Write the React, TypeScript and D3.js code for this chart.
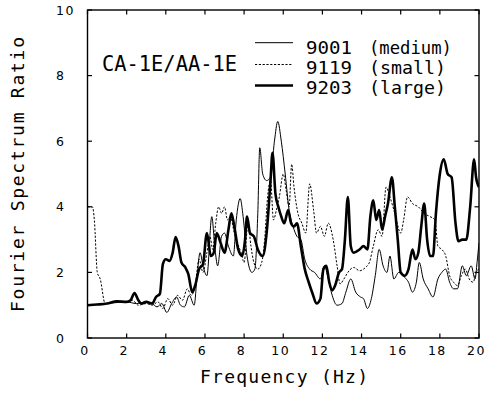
import React from "react";
import * as d3 from "d3";

// ---- data (frequency Hz, spectrum ratio) ----
const series9001: [number, number][] = [
  [0, 1.0], [1, 1.05], [2, 1.1], [2.5, 1.05], [3, 1.1], [3.3, 1.05], [3.55, 0.95], [3.8, 1.05],
  [4.05, 0.78], [4.3, 1.05], [4.55, 1.25], [4.75, 1.0], [4.95, 0.95], [5.2, 1.3], [5.45, 1.0],
  [5.6, 1.9], [5.75, 2.6], [5.9, 2.2], [6.1, 1.9], [6.35, 3.7], [6.5, 2.8], [6.65, 2.2],
  [6.85, 3.1], [7.0, 3.2], [7.2, 2.8], [7.45, 2.5], [7.6, 3.6], [7.8, 4.25], [7.95, 3.7],
  [8.15, 2.5], [8.4, 2.0], [8.55, 2.1], [8.7, 3.8], [8.8, 5.8], [8.95, 5.0], [9.15, 4.8],
  [9.35, 4.9], [9.55, 6.0], [9.72, 6.6], [9.9, 6.0], [10.1, 5.0], [10.3, 3.9], [10.5, 3.4],
  [10.7, 3.1], [10.9, 3.0], [11.1, 2.4], [11.35, 2.1], [11.6, 2.0], [11.9, 1.8], [12.1, 2.2],
  [12.3, 1.8], [12.5, 1.3], [12.75, 1.0], [13.0, 1.05], [13.2, 1.4], [13.45, 1.8], [13.7, 1.4],
  [13.95, 1.25], [14.1, 1.2], [14.3, 0.9], [14.5, 1.2], [14.7, 1.9], [14.9, 2.7], [15.1, 2.2],
  [15.3, 2.0], [15.45, 2.5], [15.65, 1.8], [15.9, 2.0], [16.2, 1.85], [16.4, 1.7], [16.6, 1.4],
  [16.8, 1.7], [16.95, 2.3], [17.15, 1.8], [17.4, 1.5], [17.65, 1.25], [17.9, 1.8], [18.1, 2.0],
  [18.3, 2.1], [18.5, 1.7], [18.7, 1.5], [18.9, 1.5], [19.15, 2.2], [19.35, 1.9], [19.6, 2.2],
  [19.8, 1.8], [19.9, 2.3], [20, 2.9],
];

const series9119: [number, number][] = [
  [0, 4.0], [0.25, 4.0], [0.35, 3.6], [0.5, 2.0], [0.65, 1.8], [0.9, 1.05], [1.5, 1.1], [2.0, 1.1],
  [2.3, 1.15], [2.6, 1.0], [3.0, 1.05], [3.3, 1.0], [3.6, 1.1], [3.85, 0.9], [4.1, 1.2],
  [4.35, 1.0], [4.6, 1.3], [4.85, 1.15], [5.1, 1.5], [5.3, 1.3], [5.5, 1.6], [5.7, 2.4],
  [5.9, 2.0], [6.1, 2.6], [6.25, 3.1], [6.4, 2.7], [6.55, 3.5], [6.7, 4.0], [6.85, 3.8],
  [7.0, 4.0], [7.15, 3.6], [7.3, 3.7], [7.5, 3.2], [7.65, 2.9], [7.85, 2.6], [8.0, 2.3],
  [8.2, 3.5], [8.35, 2.8], [8.5, 2.3], [8.7, 2.1], [8.9, 2.3], [9.05, 3.0], [9.2, 4.3],
  [9.35, 4.8], [9.5, 3.6], [9.65, 3.9], [9.8, 4.3], [10.0, 5.0], [10.15, 4.5], [10.3, 4.0],
  [10.43, 5.3], [10.55, 4.6], [10.75, 3.8], [10.95, 3.5], [11.15, 3.2], [11.35, 4.7],
  [11.55, 3.9], [11.7, 3.2], [11.9, 3.4], [12.1, 3.1], [12.3, 3.5], [12.55, 3.0], [12.75, 2.2],
  [12.9, 1.65], [13.1, 1.8], [13.3, 2.0], [13.6, 2.15], [13.9, 2.05], [14.2, 2.15], [14.4, 2.3],
  [14.6, 2.8], [14.85, 3.3], [15.05, 3.1], [15.25, 4.6], [15.45, 4.3], [15.7, 3.8], [16.0, 3.2],
  [16.15, 3.6], [16.35, 4.3], [16.6, 4.1], [16.9, 4.0], [17.2, 3.8], [17.5, 3.7], [17.75, 3.6],
  [17.9, 2.8], [18.1, 2.7], [18.3, 2.5], [18.5, 1.9], [18.7, 1.7], [18.9, 1.6], [19.1, 1.9],
  [19.3, 2.1], [19.5, 1.8], [19.7, 1.7], [19.85, 2.0], [20, 2.1],
];

const series9203: [number, number][] = [
  [0, 1.0], [0.5, 1.02], [1, 1.05], [1.5, 1.12], [2, 1.1], [2.2, 1.15], [2.4, 1.37], [2.6, 1.15],
  [2.75, 1.05], [3.0, 1.1], [3.3, 1.05], [3.5, 1.25], [3.7, 1.35], [3.85, 2.25], [4.0, 2.4],
  [4.2, 2.35], [4.35, 2.6], [4.5, 3.08], [4.65, 2.8], [4.8, 2.3], [5.0, 2.15], [5.15, 1.95],
  [5.35, 1.4], [5.5, 1.6], [5.7, 2.1], [5.9, 2.25], [6.1, 3.2], [6.3, 2.5], [6.45, 2.6],
  [6.6, 3.2], [6.8, 2.9], [7.0, 2.6], [7.2, 3.3], [7.35, 3.8], [7.5, 3.4], [7.7, 2.7],
  [7.9, 2.5], [8.05, 3.0], [8.15, 3.7], [8.3, 3.2], [8.5, 3.1], [8.7, 2.7], [8.95, 2.5],
  [9.15, 3.2], [9.35, 4.8], [9.45, 5.65], [9.6, 4.4], [9.75, 4.0], [9.9, 3.7], [10.05, 3.5],
  [10.25, 3.9], [10.4, 3.5], [10.55, 3.4], [10.7, 3.5], [10.9, 2.8], [11.1, 2.1], [11.3, 1.7],
  [11.5, 1.35], [11.7, 1.05], [11.9, 1.2], [12.05, 2.1], [12.2, 2.2], [12.35, 1.7], [12.5, 1.45],
  [12.65, 1.6], [12.85, 2.0], [13.0, 2.1], [13.15, 3.0], [13.3, 4.3], [13.45, 2.8], [13.6, 2.6],
  [13.9, 2.7], [14.1, 2.8], [14.3, 2.7], [14.45, 3.7], [14.6, 4.2], [14.75, 3.6], [14.9, 3.9],
  [15.05, 3.3], [15.2, 3.7], [15.35, 4.1], [15.55, 4.9], [15.7, 4.0], [15.85, 3.0], [16.0, 2.0],
  [16.2, 1.9], [16.4, 2.1], [16.6, 2.7], [16.75, 2.4], [16.9, 2.6], [17.05, 3.4], [17.2, 4.1],
  [17.35, 3.0], [17.5, 2.5], [17.65, 2.5], [17.8, 3.8], [18.0, 5.0], [18.2, 5.45], [18.4, 5.0],
  [18.6, 4.9], [18.8, 3.5], [18.95, 2.95], [19.15, 3.0], [19.35, 3.0], [19.55, 4.0],
  [19.75, 5.45], [19.85, 4.9], [20, 4.6],
];

const xTicks = [0, 2, 4, 6, 8, 10, 12, 14, 16, 18, 20];
const yTicks = [0, 2, 4, 6, 8, 10];
const legendIds = ["9001", "9119", "9203"];
const legendNames = ["(medium)", "(small)", "(large)"];
const stationLabel = "CA-1E/AA-1E";
const xTitle = "Frequency (Hz)";
const yTitle = "Fourier Spectrum Ratio";

const W = 490;
const H = 395;
const L = 87.5, R = 479, T = 10, B = 338;
const MONO = "'DejaVu Sans Mono', monospace";

export default function App() {
  const x = d3.scaleLinear().domain([0, 20]).range([L, R]);
  const y = d3.scaleLinear().domain([0, 10]).range([B, T]);
  const line = d3
    .line<[number, number]>()
    .x((d) => x(d[0]))
    .y((d) => y(d[1]))
    .curve(d3.curveMonotoneX);

  const styles = [
    { data: series9001, width: 1.0, dash: undefined as string | undefined },
    { data: series9119, width: 1.0, dash: "2.2 1.6" },
    { data: series9203, width: 2.6, dash: undefined as string | undefined },
  ];
  const legendY = [42.7, 64.5, 85.5];
  const textBase = [54, 74, 94];
  const nameLen = [83, 77, 77];

  return (
    <svg width={W} height={H} style={{ position: "absolute", left: 0, top: 0, background: "#fff" }}>
      <rect x={0} y={0} width={W} height={H} fill="#fff" />
      <defs>
        <clipPath id="plotClip">
          <rect x={L} y={T} width={R - L} height={B - T} />
        </clipPath>
      </defs>
      <g clipPath="url(#plotClip)">
        {styles.map((s, i) => (
          <path
            key={i}
            d={line(s.data) || ""}
            fill="none"
            stroke="#000"
            strokeWidth={s.width}
            strokeDasharray={s.dash}
            strokeLinejoin="round"
          />
        ))}
      </g>
      {/* frame */}
      <rect x={L} y={T} width={R - L} height={B - T} fill="none" stroke="#000" strokeWidth={1.4} />
      {xTicks.map((t) => (
        <g key={"xt" + t}>
          <line x1={x(t)} x2={x(t)} y1={B} y2={B - 4.5} stroke="#000" strokeWidth={1.2} />
          <line x1={x(t)} x2={x(t)} y1={T} y2={T + 4.5} stroke="#000" strokeWidth={1.2} />
          <text
            x={x(t) - 2.5}
            y={355}
            textAnchor="middle"
            fontFamily="'DejaVu Sans', sans-serif"
            fontSize={12.5}
            letterSpacing={1.5}
            fill="#000"
          >
            {t}
          </text>
        </g>
      ))}
      {yTicks.map((t) => (
        <g key={"yt" + t}>
          <line x1={L} x2={L + 4.5} y1={y(t)} y2={y(t)} stroke="#000" strokeWidth={1.2} />
          <line x1={R} x2={R - 4.5} y1={y(t)} y2={y(t)} stroke="#000" strokeWidth={1.2} />
          <text
            x={56}
            y={y(t)}
            dy="0.36em"
            textAnchor="start"
            fontFamily="'DejaVu Sans', sans-serif"
            fontSize={12.5}
            letterSpacing={1.5}
            fill="#000"
          >
            {t}
          </text>
        </g>
      ))}
      {/* axis titles */}
      <text
        x={284}
        y={383}
        textAnchor="middle"
        fontFamily={MONO}
        fontSize={18}
        textLength={168}
        lengthAdjust="spacing"
        fill="#000"
      >
        {xTitle}
      </text>
      <text
        transform="translate(23.5,174.5) rotate(-90)"
        textAnchor="middle"
        fontFamily={MONO}
        fontSize={18}
        textLength={275}
        lengthAdjust="spacing"
        fill="#000"
      >
        {yTitle}
      </text>
      {/* station label */}
      <text
        x={102}
        y={71}
        fontFamily={MONO}
        fontSize={21}
        textLength={135}
        lengthAdjust="spacingAndGlyphs"
        fill="#000"
      >
        {stationLabel}
      </text>
      {/* legend */}
      {legendIds.map((id, i) => (
        <g key={id}>
          <line
            x1={255}
            x2={293}
            y1={legendY[i]}
            y2={legendY[i]}
            stroke="#000"
            strokeWidth={styles[i].width}
            strokeDasharray={styles[i].dash}
          />
          <text
            x={306}
            y={textBase[i]}
            fontFamily={MONO}
            fontSize={17}
            textLength={46}
            lengthAdjust="spacingAndGlyphs"
            fill="#000"
          >
            {id}
          </text>
          <text
            x={369}
            y={textBase[i]}
            fontFamily={MONO}
            fontSize={17}
            textLength={nameLen[i]}
            lengthAdjust="spacingAndGlyphs"
            fill="#000"
          >
            {legendNames[i]}
          </text>
        </g>
      ))}
    </svg>
  );
}
